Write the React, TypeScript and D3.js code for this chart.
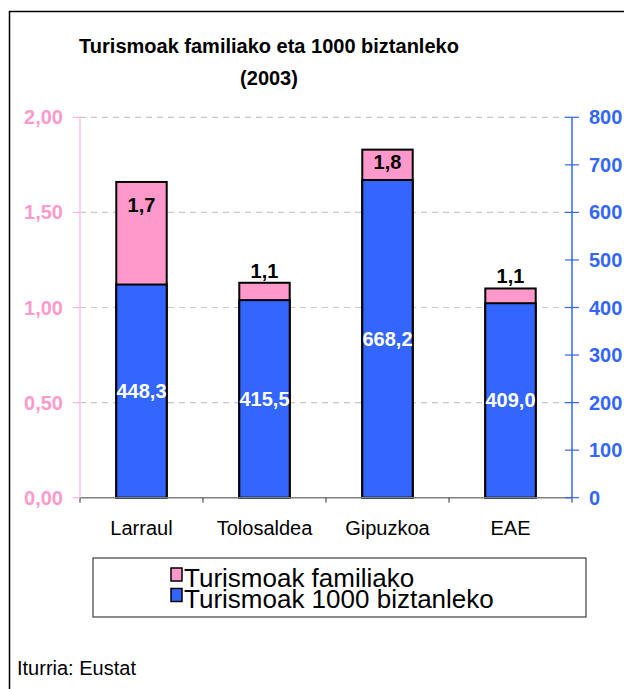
import React from 'react';
import * as d3 from 'd3';

// Chart values
const categories = ['Larraul', 'Tolosaldea', 'Gipuzkoa', 'EAE'];
const familiako = [1.66, 1.13, 1.83, 1.1];
const biztanleko = [448.3, 415.5, 668.2, 409.0];
const leftTicks = [0, 0.5, 1, 1.5, 2];
const rightTicks = [0, 100, 200, 300, 400, 500, 600, 700, 800];
const seriesNames = ['Turismoak familiako', 'Turismoak 1000 biztanleko'];
// where the pink value label sits relative to its bar
const pinkLabelPlacement = ['inside', 'outside', 'inside', 'outside'];

const PINK = '#ff99cc';
const BLUE = '#3366ff';
const FONT = '"Liberation Sans", Arial, sans-serif';

const fmt = (v: number, digits: number) => v.toFixed(digits).replace('.', ',');

const App: React.FC = () => {
  const W = 624;
  const H = 689;
  const plot = { left: 80, right: 572, top: 117.3, bottom: 497.7 };

  const x = d3.scaleBand<string>()
    .domain(categories)
    .range([plot.left, plot.right])
    .padding(0);
  const barW = x.bandwidth() * 0.41;

  const yL = d3.scaleLinear().domain([0, 2]).range([plot.bottom, plot.top]);
  const yR = d3.scaleLinear().domain([0, 800]).range([plot.bottom, plot.top]);

  return (
    <div style={{ position: 'absolute', left: 0, top: 0 }}>
      <svg width={W} height={H} style={{ display: 'block', fontFamily: FONT }}>
        <rect x={0} y={0} width={W} height={H} fill="#fff" />
        {/* outer frame */}
        <rect x={9.5} y={11.5} width={W + 20} height={H + 20} fill="none" stroke="#000" strokeWidth={1.5} />

        {/* title */}
        <text x={269} y={53} textAnchor="middle" fontSize={20} fontWeight="bold">
          Turismoak familiako eta 1000 biztanleko
        </text>
        <text x={269} y={85} textAnchor="middle" fontSize={20} fontWeight="bold">(2003)</text>

        {/* gridlines */}
        {leftTicks.filter(t => t > 0).map(t => (
          <line key={t} x1={plot.left} x2={plot.right} y1={yL(t)} y2={yL(t)}
            stroke="#c8c8c8" strokeWidth={1.2} strokeDasharray="6,5" />
        ))}

        {/* bars */}
        {categories.map((c, i) => {
          const cx = x(c)! + x.bandwidth() / 2;
          const pinkTop = yL(familiako[i]);
          const blueTop = yR(biztanleko[i]);
          const pinkBase = pinkLabelPlacement[i] === 'inside'
            ? Math.min(pinkTop + 30, blueTop - 11)
            : pinkTop - 5;
          return (
            <g key={c}>
              <rect x={cx - barW / 2} y={pinkTop} width={barW} height={plot.bottom - pinkTop}
                fill={PINK} stroke="#000" strokeWidth={2} />
              <rect x={cx - barW / 2} y={blueTop} width={barW} height={plot.bottom - blueTop}
                fill={BLUE} stroke="#000" strokeWidth={2} />
              <text x={cx} y={(blueTop + plot.bottom) / 2 + 7} textAnchor="middle"
                fontSize={20} fontWeight="bold" fill="#fff">{fmt(biztanleko[i], 1)}</text>
              <text x={cx} y={pinkBase} textAnchor="middle"
                fontSize={20} fontWeight="bold" fill="#000">{fmt(familiako[i], 1)}</text>
            </g>
          );
        })}

        {/* x axis */}
        <line x1={plot.left} x2={plot.right} y1={plot.bottom} y2={plot.bottom} stroke="#808080" strokeWidth={1.5} />
        {[...categories.map(c => x(c)!), plot.right].map((t, i) => (
          <line key={i} x1={t} x2={t} y1={plot.bottom} y2={plot.bottom + 5} stroke="#333" strokeWidth={1} />
        ))}
        {categories.map(c => (
          <text key={c} x={x(c)! + x.bandwidth() / 2} y={535} textAnchor="middle" fontSize={20} fill="#000">{c}</text>
        ))}

        {/* left axis */}
        <line x1={plot.left} x2={plot.left} y1={plot.top} y2={plot.bottom} stroke="#ffc2e0" strokeWidth={1.5} />
        {leftTicks.map(t => (
          <g key={t}>
            <line x1={plot.left - 7} x2={plot.left} y1={yL(t)} y2={yL(t)} stroke="#ffb3d9" strokeWidth={1.2} />
            <text x={63} y={yL(t) + 7} textAnchor="end" fontSize={20} fontWeight="bold" fill={PINK}>{fmt(t, 2)}</text>
          </g>
        ))}

        {/* right axis */}
        <line x1={plot.right} x2={plot.right} y1={plot.top} y2={plot.bottom} stroke={BLUE} strokeWidth={1.5} />
        {rightTicks.map(t => (
          <g key={t}>
            <line x1={plot.right - 7} x2={plot.right + 7} y1={yR(t)} y2={yR(t)} stroke={BLUE} strokeWidth={1.2} />
            <text x={589} y={yR(t) + 7} textAnchor="start" fontSize={20} fontWeight="bold" fill={BLUE}>{t}</text>
          </g>
        ))}

        {/* legend */}
        <rect x={93} y={558} width={493} height={59} fill="#fff" stroke="#404040" strokeWidth={1.2} />
        {seriesNames.map((s, i) => (
          <g key={s}>
            <rect x={171} y={568 + i * 20.5} width={11} height={13} fill={i === 0 ? PINK : BLUE}
              stroke="#000" strokeWidth={1.5} />
            <text x={184} y={586.5 + i * 21.5} fontSize={26} fill="#000">{s}</text>
          </g>
        ))}

        {/* source */}
        <text x={17} y={675} fontSize={20} fill="#000">Iturria: Eustat</text>
      </svg>
    </div>
  );
};

export default App;
